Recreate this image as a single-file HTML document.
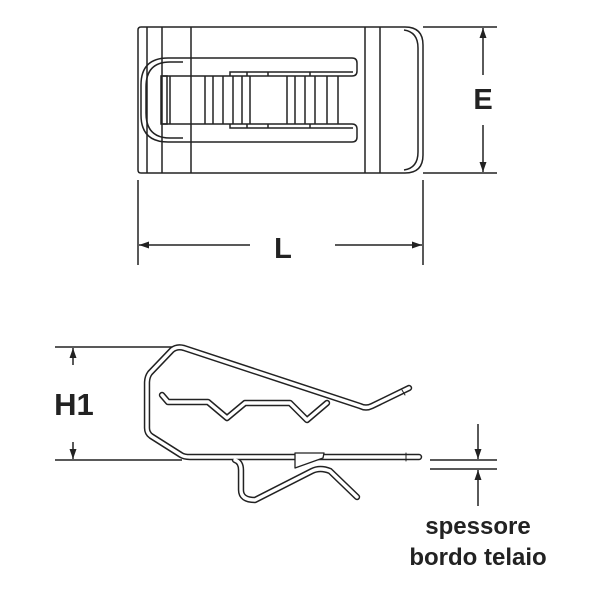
<!DOCTYPE html>
<html><head><style>html,body{margin:0;padding:0;background:#fff;}svg{display:block}</style></head>
<body>
<svg width="600" height="600" viewBox="0 0 600 600" xmlns="http://www.w3.org/2000/svg">
<defs>
<marker id="ar" viewBox="0 0 10 10" refX="10" refY="5" markerWidth="14" markerHeight="10" orient="auto-start-reverse" markerUnits="userSpaceOnUse"><path d="M0,1.5 L10,5 L0,8.5z" fill="#222"/></marker>
</defs>
<g fill="none" stroke="#222" stroke-width="1.5">
<!-- top view -->
<path d="M141,27 H405 Q423,27 423,45 V155 Q423,173 405,173 H141 Q138,173 138,170 V30 Q138,27 141,27 Z"/>
<path d="M404,30 Q418,32 418,48 V152 Q418,168 404,170"/>
<line x1="147" y1="27" x2="147" y2="173"/><line x1="162" y1="27" x2="162" y2="173"/>
<line x1="191" y1="27" x2="191" y2="173"/><line x1="365" y1="27" x2="365" y2="173"/>
<line x1="380" y1="27" x2="380" y2="173"/>
<path d="M183,58 H352 Q357,58 357,63 V71 Q357,76 352,76 H163"/>
<path d="M183,142 H352 Q357,142 357,137 V129 Q357,124 352,124 H163"/>
<path d="M183,58 H168 Q141,58 141,85 V115 Q141,142 168,142 H183"/>
<path d="M183,62 H170 Q146,62 146,87 V113 Q146,138 170,138 H183"/>
<rect x="161" y="76" width="6" height="48"/>
<path d="M230,76 V72 H353 M230,124 V128 H353"/>
<path d="M247,72 V76 M268,72 V76 M310,72 V76 M247,124 V128 M268,124 V128 M310,124 V128"/>
<path d="M170,76 V124 M205,76 V124 M213,76 V124 M223,76 V124 M233,76 V124 M242,76 V124 M250,76 V124 M287,76 V124 M295,76 V124 M305,76 V124 M315,76 V124 M327,76 V124 M338,76 V124"/>
<!-- dims top -->
<path d="M423,27 H497 M423,173 H497 M138,180 V265 M423,180 V265"/>
<line x1="483" y1="75" x2="483" y2="28" marker-end="url(#ar)"/>
<line x1="483" y1="125" x2="483" y2="172" marker-end="url(#ar)"/>
<line x1="250" y1="245" x2="139" y2="245" marker-end="url(#ar)"/>
<line x1="335" y1="245" x2="422" y2="245" marker-end="url(#ar)"/>
<!-- side dims -->
<path d="M55,347 H180 M55,460 H182 M430,460 H497 M430,469 H497"/>
<line x1="73" y1="365" x2="73" y2="348" marker-end="url(#ar)"/>
<line x1="73" y1="442" x2="73" y2="459" marker-end="url(#ar)"/>
<line x1="478" y1="424" x2="478" y2="459" marker-end="url(#ar)"/>
<line x1="478" y1="506" x2="478" y2="470" marker-end="url(#ar)"/>
</g>
<!-- wire -->
<g fill="none" stroke-linejoin="round" stroke-linecap="round">
<g stroke="#222" stroke-width="6.4">
<path d="M409,388 L372,406 Q366,409 360,406 L184,348 Q177,346 172,350 L150,373 Q147,377 147,383 V428 Q147,433 151,436 L181,455 Q184,457 190,457 H419"/>
<path d="M162,395 L168,402 H208 L227,418 L245,403 H290 L307,420 L327,403"/>
<path d="M235,460 Q241,462 241,470 V490 Q241,500 255,500 L312,471 Q320,467 330,471 L357,497"/>
</g>
<g stroke="#fff" stroke-width="3.4">
<path d="M409,388 L372,406 Q366,409 360,406 L184,348 Q177,346 172,350 L150,373 Q147,377 147,383 V428 Q147,433 151,436 L181,455 Q184,457 190,457 H419"/>
<path d="M162,395 L168,402 H208 L227,418 L245,403 H290 L307,420 L327,403"/>
<path d="M235,460 Q241,462 241,470 V490 Q241,500 255,500 L312,471 Q320,467 330,471 L357,497"/>
</g>
<path d="M295,453 L295,468 L323,458 L324,453 Z" fill="#fff" stroke="#222" stroke-width="1.3"/>
<path d="M406,453 V461 M402,390 l3,5" stroke="#222" stroke-width="1"/>
</g>
<g font-family="Liberation Sans, sans-serif" font-weight="bold" fill="#222" text-anchor="middle">
<text x="483" y="109" font-size="29">E</text>
<text x="283" y="258" font-size="29">L</text>
<text x="74" y="415" font-size="31">H1</text>
<text x="478" y="534" font-size="24">spessore</text>
<text x="478" y="565" font-size="24">bordo telaio</text>
</g>
</svg>
</body></html>
